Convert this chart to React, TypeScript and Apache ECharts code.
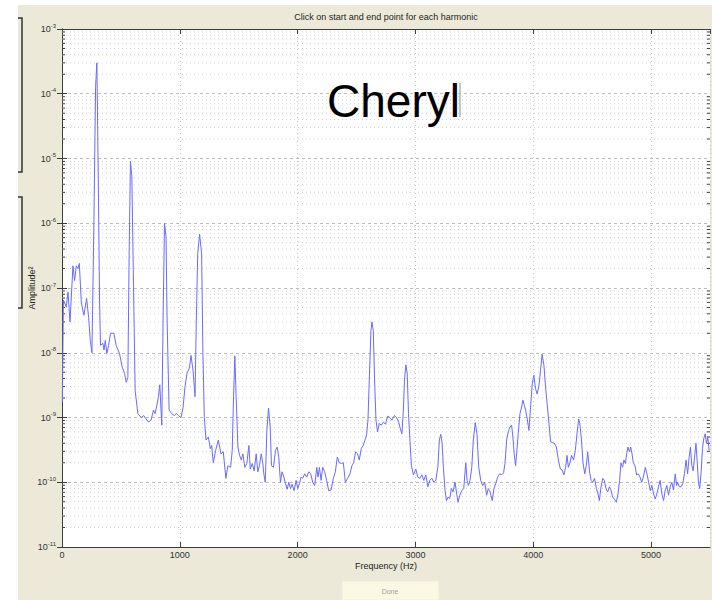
import React, { useEffect, useRef } from "react";
import * as echarts from "echarts";

// Power spectrum (frequency in Hz, amplitude^2)
const spectrum: [number, number][] = [
  [3, 1.7e-9], [12, 6.5e-8], [36, 5.1e-8], [51, 8.7e-8], [68, 3.0e-8], [93, 2.2e-7], [107, 1.3e-7], [121, 2.2e-7],
  [135, 2.0e-7], [147, 2.4e-7], [164, 5.9e-8], [186, 3.8e-8], [209, 6.9e-8], [226, 3.5e-8], [240, 1.55e-8], [254, 1.0e-8],
  [271, 1.1e-6], [285, 1.3e-4], [296, 3.0e-4], [308, 4.7e-6], [319, 5.9e-8], [327, 1.3e-8], [347, 1.4e-8], [357, 1.1e-8],
  [367, 1.55e-8], [381, 9.8e-9], [395, 1.3e-8], [412, 2.0e-8], [440, 2.0e-8], [460, 1.3e-8], [488, 9.8e-9], [511, 6.0e-9],
  [531, 4.8e-9], [545, 3.5e-9], [559, 4.1e-9], [570, 3.5e-7], [581, 9.0e-6], [593, 5.2e-6], [607, 1.05e-7], [621, 2.6e-9],
  [644, 1.15e-9], [672, 1.0e-9], [694, 1.07e-9], [714, 9.5e-10], [734, 8.5e-10], [756, 9.1e-10], [776, 1.3e-9], [790, 1.15e-9],
  [801, 1.4e-9], [818, 2.1e-9], [830, 3.2e-9], [847, 7.6e-10], [858, 3.2e-8], [870, 1.0e-6], [883, 6.2e-7], [892, 3.2e-8],
  [909, 1.3e-9], [931, 1.15e-9], [954, 1.07e-9], [971, 1.15e-9], [988, 1.07e-9], [1010, 1.0e-9], [1027, 1.4e-9], [1044, 3.0e-9],
  [1061, 4.8e-9], [1081, 5.8e-9], [1095, 9.1e-9], [1112, 5.4e-9], [1129, 2.1e-9], [1140, 3.2e-8], [1152, 3.4e-7], [1168, 6.8e-7],
  [1185, 3.4e-7], [1196, 1.0e-8], [1208, 1.0e-9], [1222, 4.5e-10], [1242, 5.0e-10], [1259, 3.3e-10], [1270, 3.7e-10], [1284, 2.0e-10],
  [1304, 3.1e-10], [1327, 4.5e-10], [1349, 2.75e-10], [1369, 2.95e-10], [1391, 1.15e-10], [1408, 1.8e-10], [1431, 1.7e-10], [1445, 3.1e-10],
  [1456, 2.1e-9], [1467, 8.9e-9], [1478, 2.1e-9], [1493, 3.5e-10], [1507, 2.6e-10], [1522, 2.2e-10], [1535, 2.75e-10], [1552, 1.7e-10],
  [1569, 1.95e-10], [1586, 3.7e-10], [1598, 1.6e-10], [1615, 1.95e-10], [1631, 1.5e-10], [1648, 2.75e-10], [1662, 1.45e-10], [1676, 1.8e-10],
  [1691, 2.75e-10], [1704, 2.0e-10], [1713, 1.35e-10], [1725, 1.0e-10], [1739, 6.3e-10], [1753, 1.4e-9], [1767, 7.1e-10], [1778, 1.8e-10],
  [1795, 1.7e-10], [1812, 3.1e-10], [1826, 3.5e-10], [1840, 2.45e-10], [1854, 1.0e-10], [1868, 1.45e-10], [1883, 1.2e-10], [1897, 9.5e-11],
  [1911, 7.8e-11], [1925, 1.0e-10], [1939, 8.0e-11], [1953, 9.3e-11], [1970, 7.4e-11], [1987, 1.07e-10], [2001, 8.0e-11], [2015, 9.5e-11],
  [2029, 1.2e-10], [2043, 1.15e-10], [2060, 1.35e-10], [2077, 1.2e-10], [2094, 1.45e-10], [2111, 1.35e-10], [2128, 1.0e-10], [2145, 8.9e-11],
  [2162, 1.7e-10], [2173, 1.2e-10], [2185, 1.7e-10], [2199, 1.07e-10], [2213, 1.7e-10], [2230, 1.45e-10], [2246, 1.07e-10], [2264, 7.4e-11],
  [2284, 7.6e-11], [2303, 1.15e-10], [2320, 1.45e-10], [2337, 2.45e-10], [2354, 2.0e-10], [2371, 1.95e-10], [2388, 2.0e-10], [2405, 1.0e-10],
  [2425, 1.15e-10], [2444, 1.35e-10], [2461, 1.8e-10], [2475, 2.0e-10], [2492, 2.95e-10], [2509, 2.75e-10], [2523, 2.2e-10], [2540, 3.3e-10],
  [2557, 3.7e-10], [2572, 4.5e-10], [2585, 5.4e-10], [2597, 9.1e-10], [2608, 3.8e-9], [2622, 2.2e-8], [2631, 3.0e-8], [2642, 2.2e-8],
  [2653, 3.8e-9], [2665, 9.1e-10], [2678, 6.0e-10], [2693, 8.1e-10], [2710, 7.6e-10], [2727, 8.5e-10], [2745, 7.9e-10], [2764, 1.05e-9],
  [2782, 1.0e-9], [2800, 9.1e-10], [2820, 1.07e-9], [2840, 1.0e-9], [2857, 8.5e-10], [2871, 6.8e-10], [2885, 5.6e-10], [2896, 1.15e-9],
  [2907, 3.8e-9], [2919, 6.5e-9], [2930, 4.8e-9], [2941, 1.15e-9], [2953, 4.5e-10], [2966, 1.8e-10], [2983, 1.3e-10], [3003, 1.6e-10],
  [3020, 1.2e-10], [3037, 1.15e-10], [3054, 1.3e-10], [3071, 1.07e-10], [3088, 1.3e-10], [3105, 8.5e-11], [3122, 1.07e-10], [3139, 1.15e-10],
  [3156, 1.0e-10], [3173, 1.07e-10], [3190, 1.7e-10], [3203, 4.5e-10], [3215, 5.5e-10], [3226, 4.0e-10], [3237, 1.7e-10], [3251, 7.4e-11],
  [3263, 5.2e-11], [3277, 5.9e-11], [3291, 5.6e-11], [3305, 8.0e-11], [3319, 7.1e-11], [3336, 1.0e-10], [3350, 6.6e-11], [3361, 4.9e-11],
  [3376, 6.3e-11], [3393, 7.4e-11], [3410, 8.0e-11], [3427, 2.0e-10], [3438, 1.07e-10], [3450, 8.9e-11], [3463, 1.07e-10], [3478, 1.7e-10],
  [3491, 4.5e-10], [3508, 8.3e-10], [3522, 5.6e-10], [3537, 1.7e-10], [3554, 1.07e-10], [3571, 8.9e-11], [3588, 1.0e-10], [3604, 6.3e-11],
  [3618, 8.0e-11], [3633, 7.1e-11], [3652, 5.2e-11], [3666, 8.0e-11], [3681, 9.5e-11], [3698, 1.2e-10], [3715, 1.35e-10], [3732, 1.3e-10],
  [3748, 1.4e-10], [3760, 1.95e-10], [3774, 4.5e-10], [3788, 6.0e-10], [3802, 7.1e-10], [3816, 7.6e-10], [3827, 5.0e-10], [3838, 2.75e-10],
  [3850, 1.8e-10], [3861, 3.1e-10], [3872, 5.6e-10], [3887, 1.15e-9], [3901, 1.45e-9], [3912, 1.86e-9], [3924, 1.55e-9], [3935, 1.3e-9],
  [3949, 9.5e-10], [3963, 6.3e-10], [3977, 1.45e-9], [3991, 3.3e-9], [4005, 4.5e-9], [4019, 2.8e-9], [4033, 2.3e-9], [4047, 3.0e-9],
  [4062, 5.4e-9], [4075, 9.5e-9], [4090, 6.5e-9], [4104, 3.0e-9], [4118, 1.6e-9], [4133, 8.1e-10], [4147, 4.2e-10], [4162, 4.1e-10],
  [4179, 4.0e-10], [4196, 3.5e-10], [4213, 2.2e-10], [4230, 1.6e-10], [4245, 1.55e-10], [4260, 1.3e-10], [4275, 1.7e-10], [4286, 2.6e-10],
  [4298, 1.7e-10], [4311, 2.0e-10], [4325, 2.6e-10], [4342, 2.2e-10], [4357, 3.1e-10], [4371, 5.6e-10], [4385, 9.5e-10], [4395, 8.1e-10],
  [4409, 4.5e-10], [4422, 2.0e-10], [4437, 1.35e-10], [4450, 1.8e-10], [4462, 2.95e-10], [4477, 1.5e-10], [4490, 1.07e-10], [4505, 1.0e-10],
  [4520, 1.15e-10], [4536, 8.0e-11], [4550, 6.6e-11], [4561, 5.2e-11], [4575, 8.5e-11], [4589, 1.15e-10], [4603, 1.07e-10], [4617, 8.0e-11],
  [4632, 7.1e-11], [4646, 8.5e-11], [4660, 7.6e-11], [4674, 5.9e-11], [4691, 5.4e-11], [4705, 4.9e-11], [4719, 6.6e-11], [4733, 1.07e-10],
  [4744, 2.0e-10], [4758, 1.7e-10], [4770, 2.2e-10], [4782, 1.95e-10], [4793, 2.75e-10], [4804, 3.5e-10], [4816, 2.95e-10], [4827, 3.5e-10],
  [4838, 2.75e-10], [4849, 2.0e-10], [4863, 1.8e-10], [4877, 1.3e-10], [4891, 1.35e-10], [4906, 1.2e-10], [4920, 1.0e-10], [4934, 1.2e-10],
  [4951, 1.7e-10], [4965, 1.35e-10], [4979, 1.0e-10], [4993, 7.4e-11], [5007, 8.9e-11], [5021, 6.6e-11], [5035, 5.5e-11], [5049, 6.6e-11],
  [5063, 8.5e-11], [5077, 1.07e-10], [5091, 6.6e-11], [5106, 5.2e-11], [5120, 7.6e-11], [5134, 8.9e-11], [5148, 6.3e-11], [5162, 8.5e-11],
  [5176, 1.0e-10], [5190, 7.6e-11], [5205, 1.35e-10], [5217, 8.9e-11], [5226, 1.0e-10], [5240, 8.5e-11], [5254, 8.5e-11], [5269, 9.5e-11],
  [5283, 1.35e-10], [5297, 2.2e-10], [5310, 1.35e-10], [5323, 2.45e-10], [5334, 3.5e-10], [5346, 1.8e-10], [5357, 1.5e-10], [5369, 2.45e-10],
  [5381, 4.0e-10], [5392, 2.0e-10], [5402, 1.0e-10], [5413, 8.0e-11], [5425, 1.45e-10], [5436, 3.3e-10], [5447, 4.7e-10], [5459, 5.6e-10],
  [5470, 4.0e-10], [5481, 5.0e-10], [5493, 3.1e-10],
];

const xMin = 0;
const xMax = 5500;
const xStep = 1000;
const yMin = 1e-11;
const yMax = 1e-3;
const minorMultipliers = [2, 3, 4, 5, 6, 7, 8, 9];
const minorDecades = [-11, -10, -9, -8, -7, -6, -5, -4];
const bandLevels = [1e-8, 1e-10];

const chartTitle = "Click on start and end point for each harmonic";
const speakerName = "Cheryl";
const xName = "Frequency (Hz)";
const yName = "Amplitude\u00B2";
const buttonLabel = "Done";

const FONT = "'Liberation Sans', Arial, Helvetica, sans-serif";
const AXIS = "#3c3c3c";

export default function App() {
  const ref = useRef<HTMLDivElement>(null);

  useEffect(() => {
    document.body.style.margin = "0";
    if (!ref.current) return;
    const chart = echarts.init(ref.current, null, { renderer: "svg" });

    const minorData: number[][] = [];
    minorDecades.forEach((e) => {
      minorMultipliers.forEach((k) => minorData.push([0, k * Math.pow(10, e)]));
    });

    const labelFmt = (v: number) => {
      const e = Math.round(Math.log10(v));
      return `{b|10}{s|${e}}`;
    };

    const option: any = {
      animation: false,
      backgroundColor: "#ECE9D8",
      textStyle: { fontFamily: FONT },
      grid: {
        left: 62,
        right: 2,
        top: 29,
        bottom: 53,
        show: true,
        backgroundColor: "#ffffff",
        borderWidth: 0,
      },
      xAxis: [
        {
          type: "value",
          min: xMin,
          max: xMax,
          interval: xStep,
          position: "bottom",
          name: xName,
          nameLocation: "middle",
          nameGap: 14,
          nameMoveOverlap: false,
          nameTextStyle: { fontSize: 9, color: "#222", fontFamily: FONT },
          axisLine: { show: true, lineStyle: { color: AXIS, width: 1 } },
          axisTick: { show: true, inside: true, length: 5, lineStyle: { color: AXIS } },
          axisLabel: {
            color: "#333",
            fontSize: 9,
            margin: 3,
            showMaxLabel: false,
            fontFamily: FONT,
            formatter: (v: number) => String(v),
          },
          splitLine: { show: true, lineStyle: { color: "#c6c6c6", type: [1, 3], width: 1 } },
        },
        {
          type: "value",
          min: xMin,
          max: xMax,
          interval: xStep,
          position: "top",
          axisLine: { show: true, lineStyle: { color: AXIS, width: 1 } },
          axisTick: { show: true, inside: true, length: 5, lineStyle: { color: AXIS } },
          axisLabel: { show: false },
          splitLine: { show: false },
        },
      ],
      yAxis: [
        {
          type: "log",
          logBase: 10,
          min: yMin,
          max: yMax,
          splitNumber: 8,
          position: "left",
          name: yName,
          nameLocation: "middle",
          nameGap: 26,
          nameMoveOverlap: false,
          nameTextStyle: { fontSize: 9, color: "#222", fontFamily: FONT },
          axisLine: { show: true, lineStyle: { color: AXIS, width: 1 } },
          axisTick: { show: true, inside: true, length: 5, lineStyle: { color: AXIS } },
          axisLabel: {
            margin: 6,
            formatter: labelFmt,
            rich: {
              b: { fontSize: 9, color: "#333", fontFamily: FONT },
              s: { fontSize: 6, color: "#333", fontFamily: FONT, padding: [0, 0, 7, 0] },
            },
          },
          splitLine: { show: true, lineStyle: { color: "#bdbdbd", type: [3, 3], width: 1 } },
        },
        {
          type: "log",
          logBase: 10,
          min: yMin,
          max: yMax,
          splitNumber: 8,
          position: "right",
          axisLine: { show: true, lineStyle: { color: AXIS, width: 1 } },
          axisTick: { show: true, inside: true, length: 5, lineStyle: { color: AXIS } },
          axisLabel: { show: false },
          splitLine: { show: false },
        },
      ],
      series: [
        {
          type: "custom",
          coordinateSystem: "cartesian2d",
          xAxisIndex: 0,
          yAxisIndex: 0,
          silent: true,
          z: 1,
          clip: true,
          data: minorData,
          renderItem: (_params: any, api: any) => {
            const v = api.value(1);
            const a = api.coord([xMin, v]);
            const b = api.coord([xMax, v]);
            return {
              type: "group",
              children: [
                {
                  type: "line",
                  shape: { x1: a[0], y1: a[1], x2: b[0], y2: b[1] },
                  style: { stroke: "#d2d2d2", lineWidth: 1, lineDash: [1, 3] },
                },
                {
                  type: "line",
                  shape: { x1: a[0], y1: a[1], x2: a[0] + 3, y2: a[1] },
                  style: { stroke: AXIS, lineWidth: 1 },
                },
                {
                  type: "line",
                  shape: { x1: b[0] - 3, y1: b[1], x2: b[0], y2: b[1] },
                  style: { stroke: AXIS, lineWidth: 1 },
                },
              ],
            };
          },
          markLine: {
            silent: true,
            symbol: "none",
            label: { show: false },
            lineStyle: { color: "#dadada", width: 2, type: "solid" },
            data: bandLevels.map((v) => ({ yAxis: v })),
          },
        },
        {
          type: "line",
          xAxisIndex: 0,
          yAxisIndex: 0,
          z: 5,
          data: spectrum,
          showSymbol: false,
          symbol: "none",
          lineStyle: { color: "#6a6aff", width: 1 },
          silent: true,
        },
      ],
      graphic: [
        { type: "rect", silent: true, shape: { x: 0, y: 0, width: 18, height: 600 }, style: { fill: "#ffffff" } },
        { type: "rect", silent: true, shape: { x: 0, y: 0, width: 712, height: 5 }, style: { fill: "#ffffff" } },
        {
          type: "polyline",
          silent: true,
          shape: { points: [[18, 18], [22, 18], [22, 172], [18, 172]] },
          style: { stroke: "#333", lineWidth: 1.5, fill: null },
        },
        {
          type: "polyline",
          silent: true,
          shape: { points: [[18, 197], [22, 197], [22, 308], [18, 308]] },
          style: { stroke: "#333", lineWidth: 1.5, fill: null },
        },
        {
          type: "text",
          silent: true,
          x: 386,
          y: 17,
          style: {
            text: chartTitle,
            font: `9px ${FONT}`,
            fill: "#1e1e1e",
            textAlign: "center",
            textVerticalAlign: "middle",
          },
        },
        {
          type: "text",
          silent: true,
          z: 20,
          x: 327,
          y: 101,
          style: {
            text: speakerName,
            font: `46px ${FONT}`,
            fill: "#000000",
            textAlign: "left",
            textVerticalAlign: "middle",
          },
        },
        {
          type: "line",
          silent: true,
          z: 20,
          shape: { x1: 460, y1: 83, x2: 460, y2: 117 },
          style: { stroke: "#b4b4b4", lineWidth: 1.5 },
        },
        {
          type: "rect",
          silent: true,
          shape: { x: 342, y: 581, width: 97, height: 19 },
          style: { fill: "#FBF8E4", stroke: "#F0ECD4", lineWidth: 1 },
        },
        {
          type: "text",
          silent: true,
          x: 390,
          y: 591,
          style: {
            text: buttonLabel,
            font: `7px ${FONT}`,
            fill: "#a0a0a0",
            textAlign: "center",
            textVerticalAlign: "middle",
          },
        },
      ],
    };

    chart.setOption(option);
    return () => chart.dispose();
  }, []);

  return <div ref={ref} style={{ width: 712, height: 600 }} />;
}
